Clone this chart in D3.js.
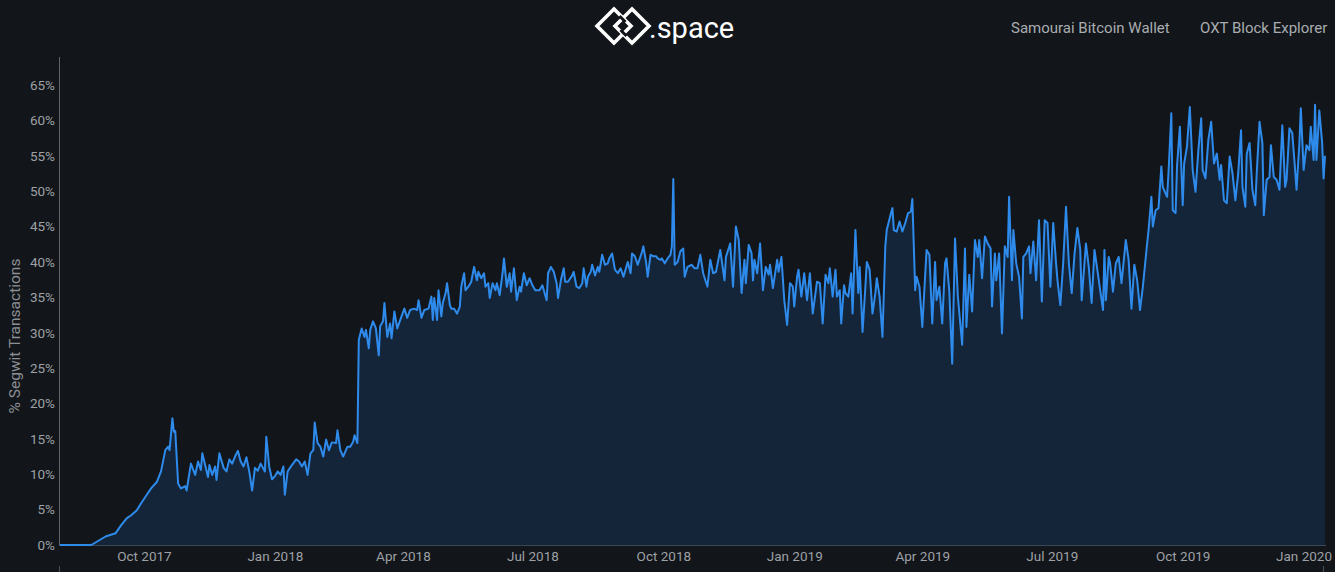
<!DOCTYPE html>
<html>
<head>
<meta charset="utf-8">
<script src="https://cdn.jsdelivr.net/npm/d3@7"></script>
<style>
html,body{margin:0;padding:0;background:#121519;}
svg{display:block;}
text{font-family:Roboto,"Noto Sans",sans-serif;}
</style>
</head>
<body>
<svg id="chart" width="1335" height="572"></svg>
<script>
// ---------------- DATA ----------------
// day offsets from startDate, % of segwit transactions
const startDate = "2017-08-03";
const segwit2017 = [[0,0],[22,0],[32,1.2],[39,1.65],[43,2.8],[47,3.8],[50,4.2],[54,4.9],[57,5.9],[61,7.1],[64,8.0],[68,8.9],[71,10.4],[74,13.4],[76,13.9],[77,13.4],[79,17.9],[80,16.0],[81,16.1],[83,8.7],[85,8.0],[88,8.3],[89,7.7],[92,11.5],[95,9.9],[97,11.8],[99,10.6],[100,12.95],[102,11.3],[104,9.6],[105,11.3],[107,9.9],[109,11.1],[110,9.2],[112,12.95],[115,10.9],[117,10.4],[119,12.1],[121,11.5],[123,12.5],[125,13.3],[127,11.8],[129,11.1],[131,12.4],[133,10.4],[135,7.7],[137,10.9],[139,10.5],[141,11.5],[144,10.4],[145,15.3],[147,11.1],[149,9.3],[151,9.7],[153,10.4],[155,9.9],[157,11.1],[158,7.1],[160,10.4],[163,11.3],[166,12.1],[168,11.8],[170,11.1],[172,11.8],[174,9.9],[176,12.95],[178,13.4],[179,17.3],[181,14.4],[183,13.9],[185,12.5],[187,14.9],[189,13.4],[191,14.5],[194,14.4],[195,16.2],[197,13.4],[199,12.5],[202,13.9],[204,13.9],[206,14.6],[207,15.5],[209,14.4]];
const segwit2018 = [[210,29.0],[212,30.6],[214,29.4],[215,30.4],[217,27.8],[218,30.4],[220,31.6],[222,30.6],[224,26.8],[225,30.9],[227,31.6],[228,34.2],[230,29.4],[232,31.3],[233,29.2],[235,33.0],[237,30.6],[240,32.3],[242,33.4],[244,32.1],[246,33.2],[249,33.4],[251,33.2],[252,34.6],[254,32.1],[256,33.2],[259,33.4],[261,35.1],[262,31.8],[263,34.9],[265,31.8],[266,36.0],[268,32.3],[269,34.2],[271,35.6],[272,37.0],[274,33.9],[275,33.4],[277,33.4],[279,32.7],[281,33.7],[282,36.5],[284,38.4],[285,36.0],[287,36.5],[289,37.2],[291,39.3],[293,37.4],[294,38.6],[296,37.7],[298,38.4],[299,36.5],[301,37.0],[302,34.9],[304,37.0],[306,36.0],[307,37.0],[309,35.3],[311,38.4],[312,40.5],[314,36.5],[316,38.4],[317,35.8],[319,39.1],[321,34.6],[323,36.5],[324,35.8],[326,38.4],[328,36.7],[330,37.7],[332,36.7],[334,36.0],[337,36.0],[339,36.7],[340,36.0],[342,34.6],[343,38.4],[345,39.3],[347,38.6],[349,37.0],[350,34.9],[352,37.4],[354,39.1],[355,37.2],[357,37.2],[360,38.1],[361,38.6],[363,36.5],[365,36.3],[367,37.0],[368,39.1],[370,36.5],[371,37.9],[373,38.6],[374,39.6],[376,38.1],[378,39.3],[379,38.6],[381,41.0],[383,39.6],[385,39.8],[386,40.5],[388,41.2],[390,38.9],[392,38.4],[394,39.1],[396,37.9],[398,39.3],[399,40.0],[401,38.4],[402,41.2],[404,40.8],[406,39.6],[409,41.4],[410,42.2],[412,39.8],[413,37.9],[415,41.0],[417,40.8],[419,40.8],[420,40.5],[422,40.3],[423,40.5],[425,39.8],[427,40.5],[429,41.0],[430,42.2],[431,51.7],[432,39.6],[434,40.0]];
const segwit2019a = [[436,41.5],[438,41.9],[439,37.9],[441,39.3],[444,39.6],[446,39.1],[448,39.1],[450,41.0],[452,38.4],[455,36.5],[457,40.3],[459,38.4],[461,38.6],[464,41.7],[467,37.4],[468,40.7],[471,42.6],[473,36.5],[475,45.0],[477,43.1],[479,35.6],[481,40.3],[482,37.0],[484,42.4],[486,41.2],[487,37.4],[488,40.3],[490,38.4],[492,42.6],[494,36.0],[496,39.3],[498,38.2],[499,39.6],[501,36.3],[504,40.3],[505,38.6],[507,40.7],[509,34.6],[511,31.1],[513,37.0],[515,36.5],[516,33.7],[518,37.9],[519,38.9],[521,35.1],[523,38.4],[525,34.6],[527,38.4],[529,32.7],[532,37.2],[534,37.0],[536,31.3],[538,38.2],[540,37.0],[541,39.1],[543,35.1],[545,38.9],[546,35.1],[548,36.0],[549,31.3],[551,36.7],[552,35.6],[554,35.1],[556,38.4],[557,32.7],[559,44.5],[561,35.6],[562,39.3],[564,30.1],[566,36.5],[567,40.0],[569,38.9],[571,32.7],[573,35.6],[574,37.7],[576,35.1],[578,29.4],[580,42.2],[581,44.5],[584,46.9],[585,47.6],[586,44.5],[588,44.3],[590,45.7],[592,44.3],[594,45.5],[596,46.9],[598,47.1],[599,48.9],[601,36.0],[602,37.9],[604,36.5],[606,30.8],[609,41.7],[611,41.0],[613,31.3],[615,40.0],[616,34.6],[618,36.5],[620,31.3],[622,39.8],[623,40.5],[625,35.8],[627,25.6],[629,43.3],[631,35.1],[634,28.3],[636,41.9],[637,30.8],[639,38.2],[641,33.0],[643,43.1],[645,40.7],[646,43.1],[648,37.7],[650,43.6],[652,42.6],[654,41.9],[655,33.7],[657,41.2],[658,37.4],[660,41.2],[662,29.9]];
const segwit2019b = [[664,42.2],[666,40.7],[667,49.2],[669,37.4],[670,44.5],[672,39.8],[674,37.9],[676,32.0],[677,40.7],[679,41.2],[681,42.2],[682,38.4],[684,42.9],[686,37.4],[688,45.9],[690,34.4],[692,45.9],[694,45.5],[696,36.5],[698,45.5],[700,39.8],[701,37.4],[703,33.9],[705,39.8],[707,47.8],[709,39.8],[711,35.6],[713,41.2],[715,44.8],[717,41.7],[718,34.6],[721,42.6],[723,39.3],[725,34.2],[727,41.7],[729,38.9],[731,36.0],[733,33.2],[734,41.7],[735,34.6],[737,40.7],[738,39.8],[740,35.8],[742,39.8],[744,40.7],[746,37.0],[749,43.1],[751,40.3],[753,33.4],[755,39.6],[757,37.4],[759,33.2],[761,36.5],[764,42.6],[765,44.5],[767,49.2],[768,45.0],[770,47.3],[772,47.6],[774,53.5],[775,50.6],[778,49.2],[779,52.5],[781,61.0],[782,47.3],[784,46.9],[785,53.5],[787,59.1],[789,48.0],[790,53.9],[792,56.3],[794,61.9],[796,53.0],[798,49.9],[800,55.8],[802,60.3],[803,53.0],[805,51.8],[807,57.2],[809,59.8],[811,53.9],[813,55.3],[815,51.6],[816,53.7],[818,48.7],[820,48.3],[822,54.9],[824,52.5],[826,48.7],[828,52.5],[830,58.6],[831,50.6],[833,47.8],[834,55.3],[836,56.8],[838,50.2],[840,48.0],[841,52.5],[843,59.8],[845,56.8],[846,46.6],[848,51.6],[850,52.0],[851,56.5],[853,52.0],[855,51.6],[857,50.2],[859,59.3],[861,50.6],[862,51.6],[864,58.9],[866,58.2],[868,53.0],[869,50.2],[871,56.8],[872,61.7],[874,53.0],[876,56.5],[878,55.8],[879,59.1],[881,54.4],[882,62.2],[883,54.4],[885,61.4],[887,56.8],[888,51.8],[889,55.0]];

const yTicks = [0,5,10,15,20,25,30,35,40,45,50,55,60,65];
const xTickDates = ["2017-10-01","2018-01-01","2018-04-01","2018-07-01","2018-10-01","2019-01-01","2019-04-01","2019-07-01","2019-10-01","2020-01-01"];
const yAxisTitle = "% Segwit Transactions";
const brandText = ".space";
const headerLinks = ["Samourai Bitcoin Wallet","OXT Block Explorer"];

// ---------------- CHART ----------------
const svg = d3.select("#chart");
const W = 1335, H = 572;
const plot = {left:60, right:1325, top:57, bottom:545};

svg.append("rect").attr("width",W).attr("height",H).attr("fill","#121519");

const parse = d3.utcParse("%Y-%m-%d");
const t0 = parse(startDate);
const data = [].concat(segwit2017, segwit2018, segwit2019a, segwit2019b)
  .map(([d,v]) => ({date: d3.utcDay.offset(t0, d), value: v}));

const x = d3.scaleUtc().domain(d3.extent(data, d => d.date)).range([plot.left, plot.right]);
const y = d3.scaleLinear().domain([0,65]).range([plot.bottom, 85]);

// area + line
svg.append("path").datum(data)
  .attr("fill","#14253a")
  .attr("d", d3.area().x(d=>x(d.date)).y0(y(0)).y1(d=>y(d.value)));

// x axis line
svg.append("line").attr("x1",plot.left-1).attr("x2",plot.right+1)
  .attr("y1",plot.bottom+0.5).attr("y2",plot.bottom+0.5)
  .attr("stroke","#3a4757").attr("stroke-width",1);

svg.append("path").datum(data)
  .attr("fill","none").attr("stroke","#2e8bec").attr("stroke-width",2)
  .attr("stroke-linejoin","round")
  .attr("d", d3.line().x(d=>x(d.date)).y(d=>y(d.value)));

// y axis line
svg.append("line").attr("x1",59.5).attr("x2",59.5)
  .attr("y1",plot.top).attr("y2",plot.bottom)
  .attr("stroke","#5c6369").attr("stroke-width",1);

// small bottom ticks
[59.5, 1323.5].forEach(px => {
  svg.append("line").attr("x1",px).attr("x2",px).attr("y1",566).attr("y2",572)
    .attr("stroke","#4a5056").attr("stroke-width",1);
});

// y axis labels
const yAxis = svg.append("g").attr("transform",`translate(${59},0)`)
  .call(d3.axisLeft(y).tickValues(yTicks).tickSize(0).tickPadding(4).tickFormat(d => d + "%"));
yAxis.select(".domain").remove();
yAxis.selectAll("text").attr("fill","#9da1a6").style("font-size","13.5px").style("font-family","Roboto");

// x axis labels
const xAxis = svg.append("g").attr("transform",`translate(0,${plot.bottom})`)
  .call(d3.axisBottom(x).tickValues(xTickDates.map(parse)).tickSize(0).tickPadding(6)
    .tickFormat(d3.utcFormat("%b %Y")));
xAxis.select(".domain").remove();
xAxis.selectAll("text").attr("fill","#9da1a6").style("font-size","13.5px").style("font-family","Roboto");
// keep the last label inside the page
xAxis.selectAll(".tick").each(function(){
  const t = d3.select(this).select("text");
  const bb = this.getBBox();
  const tr = d3.select(this).attr("transform");
  const tx = +tr.match(/translate\(([-\d.]+)/)[1];
  if (tx + bb.width/2 > W - 3) {
    t.attr("text-anchor","end").attr("x", (W - 3) - tx);
  }
});

// y axis title
svg.append("text")
  .attr("transform","translate(20,336) rotate(-90)")
  .attr("text-anchor","middle")
  .attr("fill","#8b8f94").style("font-size","15.5px")
  .text(yAxisTitle);

// header: logo
const logo = svg.append("g").attr("fill","none").attr("stroke","#ffffff").attr("stroke-width",3.6)
  .attr("stroke-linejoin","miter");
logo.append("path").attr("d","M614,9 L631,26 L614,43 L597,26 Z");
logo.append("path").attr("d","M632,9 L649,26 L632,43 L615,26 Z");
// interlock gaps
svg.append("path").attr("d","M619.5,16 L625.5,22").attr("stroke","#121519").attr("stroke-width",3);
svg.append("path").attr("d","M626.5,36 L620.5,30").attr("stroke","#121519").attr("stroke-width",3);
svg.append("text").attr("x",649).attr("y",38).attr("fill","#ffffff")
  .style("font-size","29px").text(brandText);

// header links
svg.append("text").attr("x",1011).attr("y",33).attr("fill","#a9adb1").style("font-size","15px").text(headerLinks[0]);
svg.append("text").attr("x",1200).attr("y",33).attr("fill","#a9adb1").style("font-size","15px").text(headerLinks[1]);
</script>
</body>
</html>
